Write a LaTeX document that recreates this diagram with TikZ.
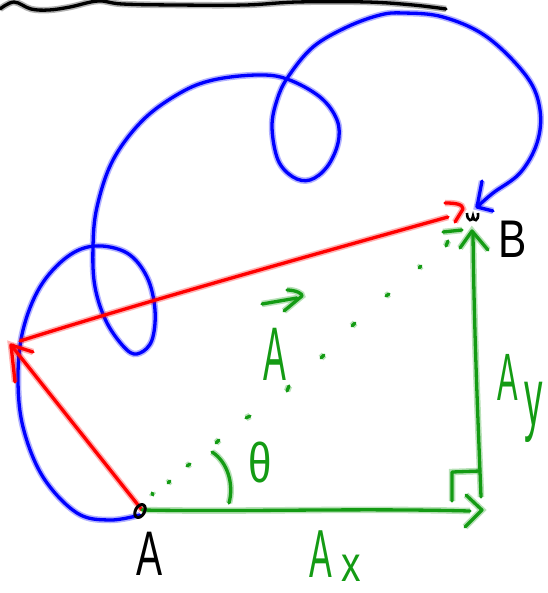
\documentclass[tikz,border=0pt]{standalone}
\usepackage{fontspec}
\setmainfont{Liberation Sans}
\definecolor{pgreen}{RGB}{20,155,20}
\definecolor{pblue}{RGB}{0,0,255}
\definecolor{pred}{RGB}{255,0,0}
\begin{document}
\begin{tikzpicture}[x=1pt,y=-1pt,
  pen/.style={line width=3.3pt,line cap=round,line join=round,draw=#1,
    preaction={draw=#1,line width=6.5pt,opacity=0.3}},
  bluepen/.style={pen=pblue},
  redpen/.style={pen=pred},
  greenpen/.style={pen=pgreen},
  blackpen/.style={pen=black},
  lbl/.style={inner sep=0pt,anchor=base,font=\fontsize{#1}{#1}\selectfont},
]
\useasboundingbox (0,0) rectangle (547,593);
% points
\coordinate (A) at (142,510);
\coordinate (B) at (472,216);
\coordinate (C) at (11,345);
\coordinate (D) at (482,510);
% top wavy line
\draw[blackpen] plot[smooth,tension=0.6] coordinates {(0,9) (14,2) (31,9) (49,10) (70,7) (98,1) (122,4) (175,5) (245,5) (297,2) (367,2) (413,5) (446,9)};
% blue path
\draw[bluepen] plot[smooth,tension=0.6] coordinates {(140,515) (110,520) (77,513) (43,477) (23,427) (18,377) (23,330) (40,287) (67,257) (95,246) (127,253) (147,277) (155,310) (152,340) (140,353) (127,350) (107,323) (95,287) (93,247) (97,207) (113,160) (143,120) (180,93) (213,80) (257,75) (287,79) (320,97) (337,120) (338,143) (327,167) (310,180) (293,177) (278,160) (272,127) (277,100) (288,77) (313,47) (347,27) (380,15) (403,13) (443,17) (487,37) (527,77) (540,110) (537,143) (520,173) (493,193) (477,207)};
\draw[bluepen] (482,181) -- (477,207) -- (493,211);
% red vectors
\draw[redpen] (A) -- (C);
\draw[redpen] (15,382) -- (11,345) -- (33,352);
\draw[redpen] (20,341) .. controls (150,300) and (330,250) .. (448,217);
\draw[redpen] (445,203) .. controls (455,203) and (463,204) .. (463,209) -- (455,222);
% green components
\draw[greenpen] (A) .. controls (250,512) and (350,508) .. (470,511);
\draw[greenpen] (466,495) -- (D) -- (465,527);
\draw[greenpen] (481,497) .. controls (478,420) and (474,330) .. (473,234);
\draw[greenpen] (460,248) -- (472,231) -- (488,250);
\draw[greenpen] (443,232) -- (462,230);
\draw[greenpen] (452,501) -- (452,472) -- (480,471);
% dotted line A to B
\foreach \xa/\ya/\xb/\yb in {152/493/153/495,168/483/170/481,187/466/190/464,
  216/443/219/440,246/418/250/416,287/391/289/386,
  321/358/324/355,352/326/355/323,386/296/389/294,419/268/421/266,448/241/446/246}
  \draw[greenpen] (\xa,\ya) -- (\xb,\yb);
% angle arc
\draw[greenpen] (212,452) .. controls (228,462) and (234,485) .. (229,503);
% black point markers
\draw[black,line width=3pt,rotate around={60:(140,511)}] (140,511) ellipse [x radius=7pt,y radius=4.5pt];
\draw[black,line width=2.6pt] (467,213) .. controls (467,222) and (473,222) .. (473,216) .. controls (473,222) and (479,222) .. (478,213);
% labels
\node[lbl=63,xscale=0.62] (lA) at (150,575) {A};
\node[lbl=53,xscale=0.8] (lB) at (513,258) {B};
\node[lbl=76,xscale=0.45,text=pgreen] (lvA) at (275,380) {A};
\draw[greenpen] (262,304) -- (297,298);
\draw[greenpen] (287,290) .. controls (296,290) and (303,294) .. (302,296) -- (284,311);
\node[lbl=68,xscale=0.5,text=pgreen] (lAx) at (321,577) {A};
\node[lbl=50,xscale=0.78,text=pgreen] (lx) at (351,581) {x};
\node[lbl=67,xscale=0.46,text=pgreen] (lAy) at (508,400) {A};
\node[lbl=82,xscale=0.45,text=pgreen] (ly) at (534,425) {y};
\node[lbl=56,xscale=0.75,text=pgreen] (lth) at (260,482) {θ};
\end{tikzpicture}
\end{document}
